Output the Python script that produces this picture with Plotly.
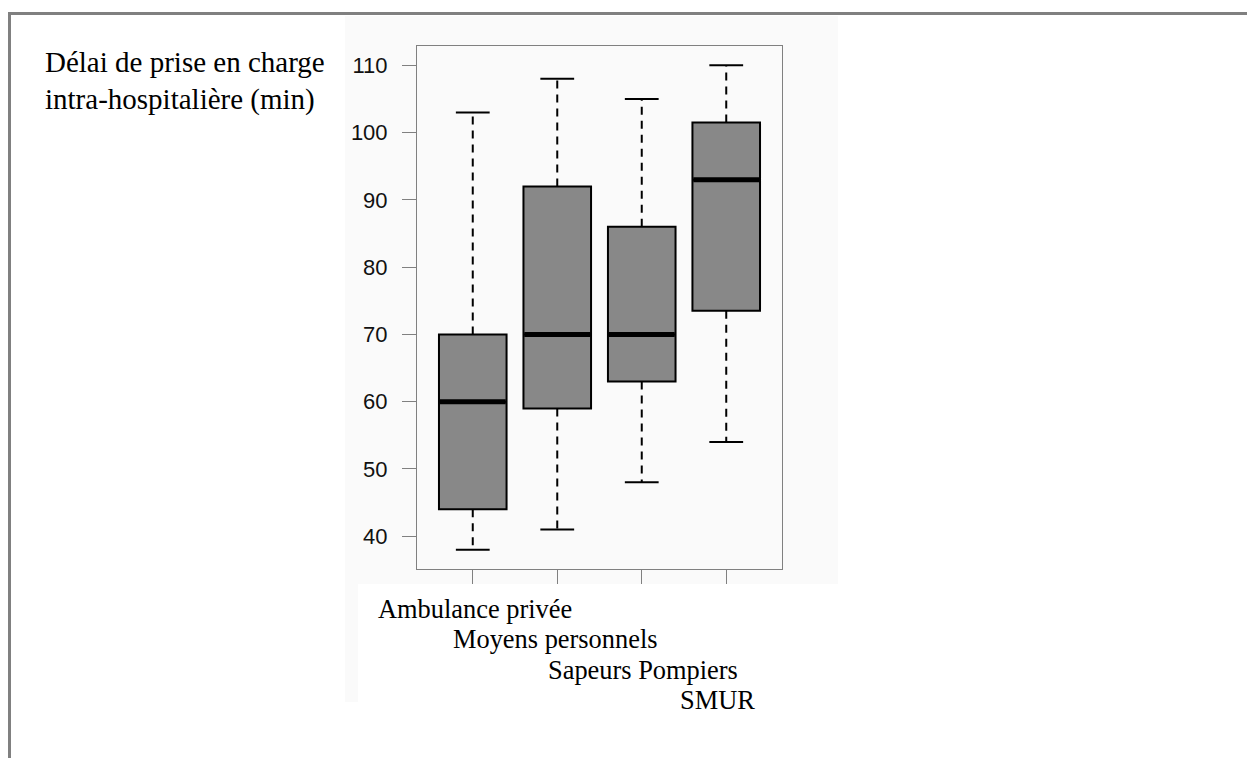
import plotly.graph_objects as go

# Délai de prise en charge intra-hospitalière selon le mode d'arrivée
categories = ["Ambulance privée", "Moyens personnels", "Sapeurs Pompiers", "SMUR"]
positions = [1, 2, 3, 4]
whisker_low = [38, 41, 48, 54]
q1 = [44, 59, 63, 73.5]
median = [60, 70, 70, 93]
q3 = [70, 92, 86, 101.5]
whisker_high = [103, 108, 105, 110]
y_ticks = [40, 50, 60, 70, 80, 90, 100, 110]
y_title_lines = ["Délai de prise en charge", "intra-hospitalière (min)"]

W, H = 1247, 758
L, R, T, B = 417, 465, 46, 189
PW, PH = W - L - R, H - T - B

BOX_HALF = 0.4
CAP_HALF = 0.2


def px_x(px):
    return (px - L) / PW


def px_y(py):
    return (H - B - py) / PH


fig = go.Figure()

# dashed whiskers
wx, wy = [], []
for p, lo, a, b, hi in zip(positions, whisker_low, q1, q3, whisker_high):
    wx += [p, p, None, p, p, None]
    wy += [b, hi, None, a, lo, None]
fig.add_trace(go.Scatter(x=wx, y=wy, mode="lines", hoverinfo="skip",
                         line=dict(color="black", width=2, dash="8px,6px"),
                         showlegend=False))

# whisker caps
cx, cy = [], []
for p, lo, hi in zip(positions, whisker_low, whisker_high):
    cx += [p - CAP_HALF, p + CAP_HALF, None, p - CAP_HALF, p + CAP_HALF, None]
    cy += [hi, hi, None, lo, lo, None]
fig.add_trace(go.Scatter(x=cx, y=cy, mode="lines", hoverinfo="skip",
                         line=dict(color="black", width=2), showlegend=False))

# boxes (interquartile range)
fig.add_trace(go.Box(x=positions, q1=q1, median=median, q3=q3,
                     lowerfence=q1, upperfence=q3, width=2 * BOX_HALF,
                     fillcolor="#888888", line=dict(color="black", width=2),
                     boxpoints=False, showlegend=False, name=""))

# thick median bars
mx, my = [], []
for p, m in zip(positions, median):
    mx += [p - BOX_HALF + 0.01, p + BOX_HALF - 0.01, None]
    my += [m, m, None]
fig.add_trace(go.Scatter(x=mx, y=my, mode="lines", hoverinfo="skip",
                         line=dict(color="black", width=5), showlegend=False))

annotations = []
# y title, two left-aligned lines
for i, (txt, yc) in enumerate(zip(y_title_lines, [62, 100])):
    annotations.append(dict(text=txt, xref="paper", yref="paper",
                            x=px_x(43), y=px_y(yc), xanchor="left",
                            yanchor="middle", showarrow=False,
                            font=dict(family="Liberation Serif, Times New Roman, serif",
                                      size=29, color="black")))
# staggered category labels
label_rows = [609, 639, 670, 700]
label_shift = [2, -2, 1, -9]
for p, txt, yc, dx in zip(positions, categories, label_rows, label_shift):
    annotations.append(dict(text=txt, xref="x", yref="paper", x=p, xshift=dx,
                            y=px_y(yc), xanchor="center", yanchor="middle",
                            showarrow=False,
                            font=dict(family="Liberation Serif, Times New Roman, serif",
                                      size=26.4, color="black")))

shapes = [
    # light panel behind the chart
    dict(type="rect", xref="paper", yref="paper", layer="below",
         x0=px_x(345), x1=px_x(838), y0=px_y(702), y1=px_y(16),
         fillcolor="#fafafa", line=dict(width=0)),
    dict(type="rect", xref="paper", yref="paper", layer="below",
         x0=px_x(358), x1=px_x(838), y0=px_y(702), y1=px_y(584),
         fillcolor="#ffffff", line=dict(width=0)),
    # page frame
    dict(type="line", xref="paper", yref="paper",
         x0=px_x(8), x1=px_x(1247), y0=px_y(13.5), y1=px_y(13.5),
         line=dict(color="#808080", width=3)),
    dict(type="line", xref="paper", yref="paper",
         x0=px_x(9.5), x1=px_x(9.5), y0=px_y(12), y1=px_y(758),
         line=dict(color="#808080", width=3)),
]

fig.update_layout(
    width=W, height=H,
    margin=dict(l=L, r=R, t=T, b=B, pad=0),
    paper_bgcolor="white", plot_bgcolor="#fafafa",
    showlegend=False,
    annotations=annotations, shapes=shapes,
    xaxis=dict(range=[0.34, 4.66], tickvals=positions, showticklabels=False,
               ticks="outside", ticklen=14, tickwidth=1, tickcolor="#808080",
               showgrid=False, zeroline=False, showline=True, mirror=True,
               linecolor="#808080", linewidth=1),
    yaxis=dict(range=[35.12, 112.88], tickvals=y_ticks,
               ticks="outside", ticklen=14, tickwidth=1, tickcolor="#808080",
               ticklabelstandoff=10,
               tickfont=dict(family="Liberation Sans, Arial, sans-serif",
                             size=22, color="#111111"),
               showgrid=False, zeroline=False, showline=True, mirror=True,
               linecolor="#808080", linewidth=1),
)

fig.write_html("out.html")
